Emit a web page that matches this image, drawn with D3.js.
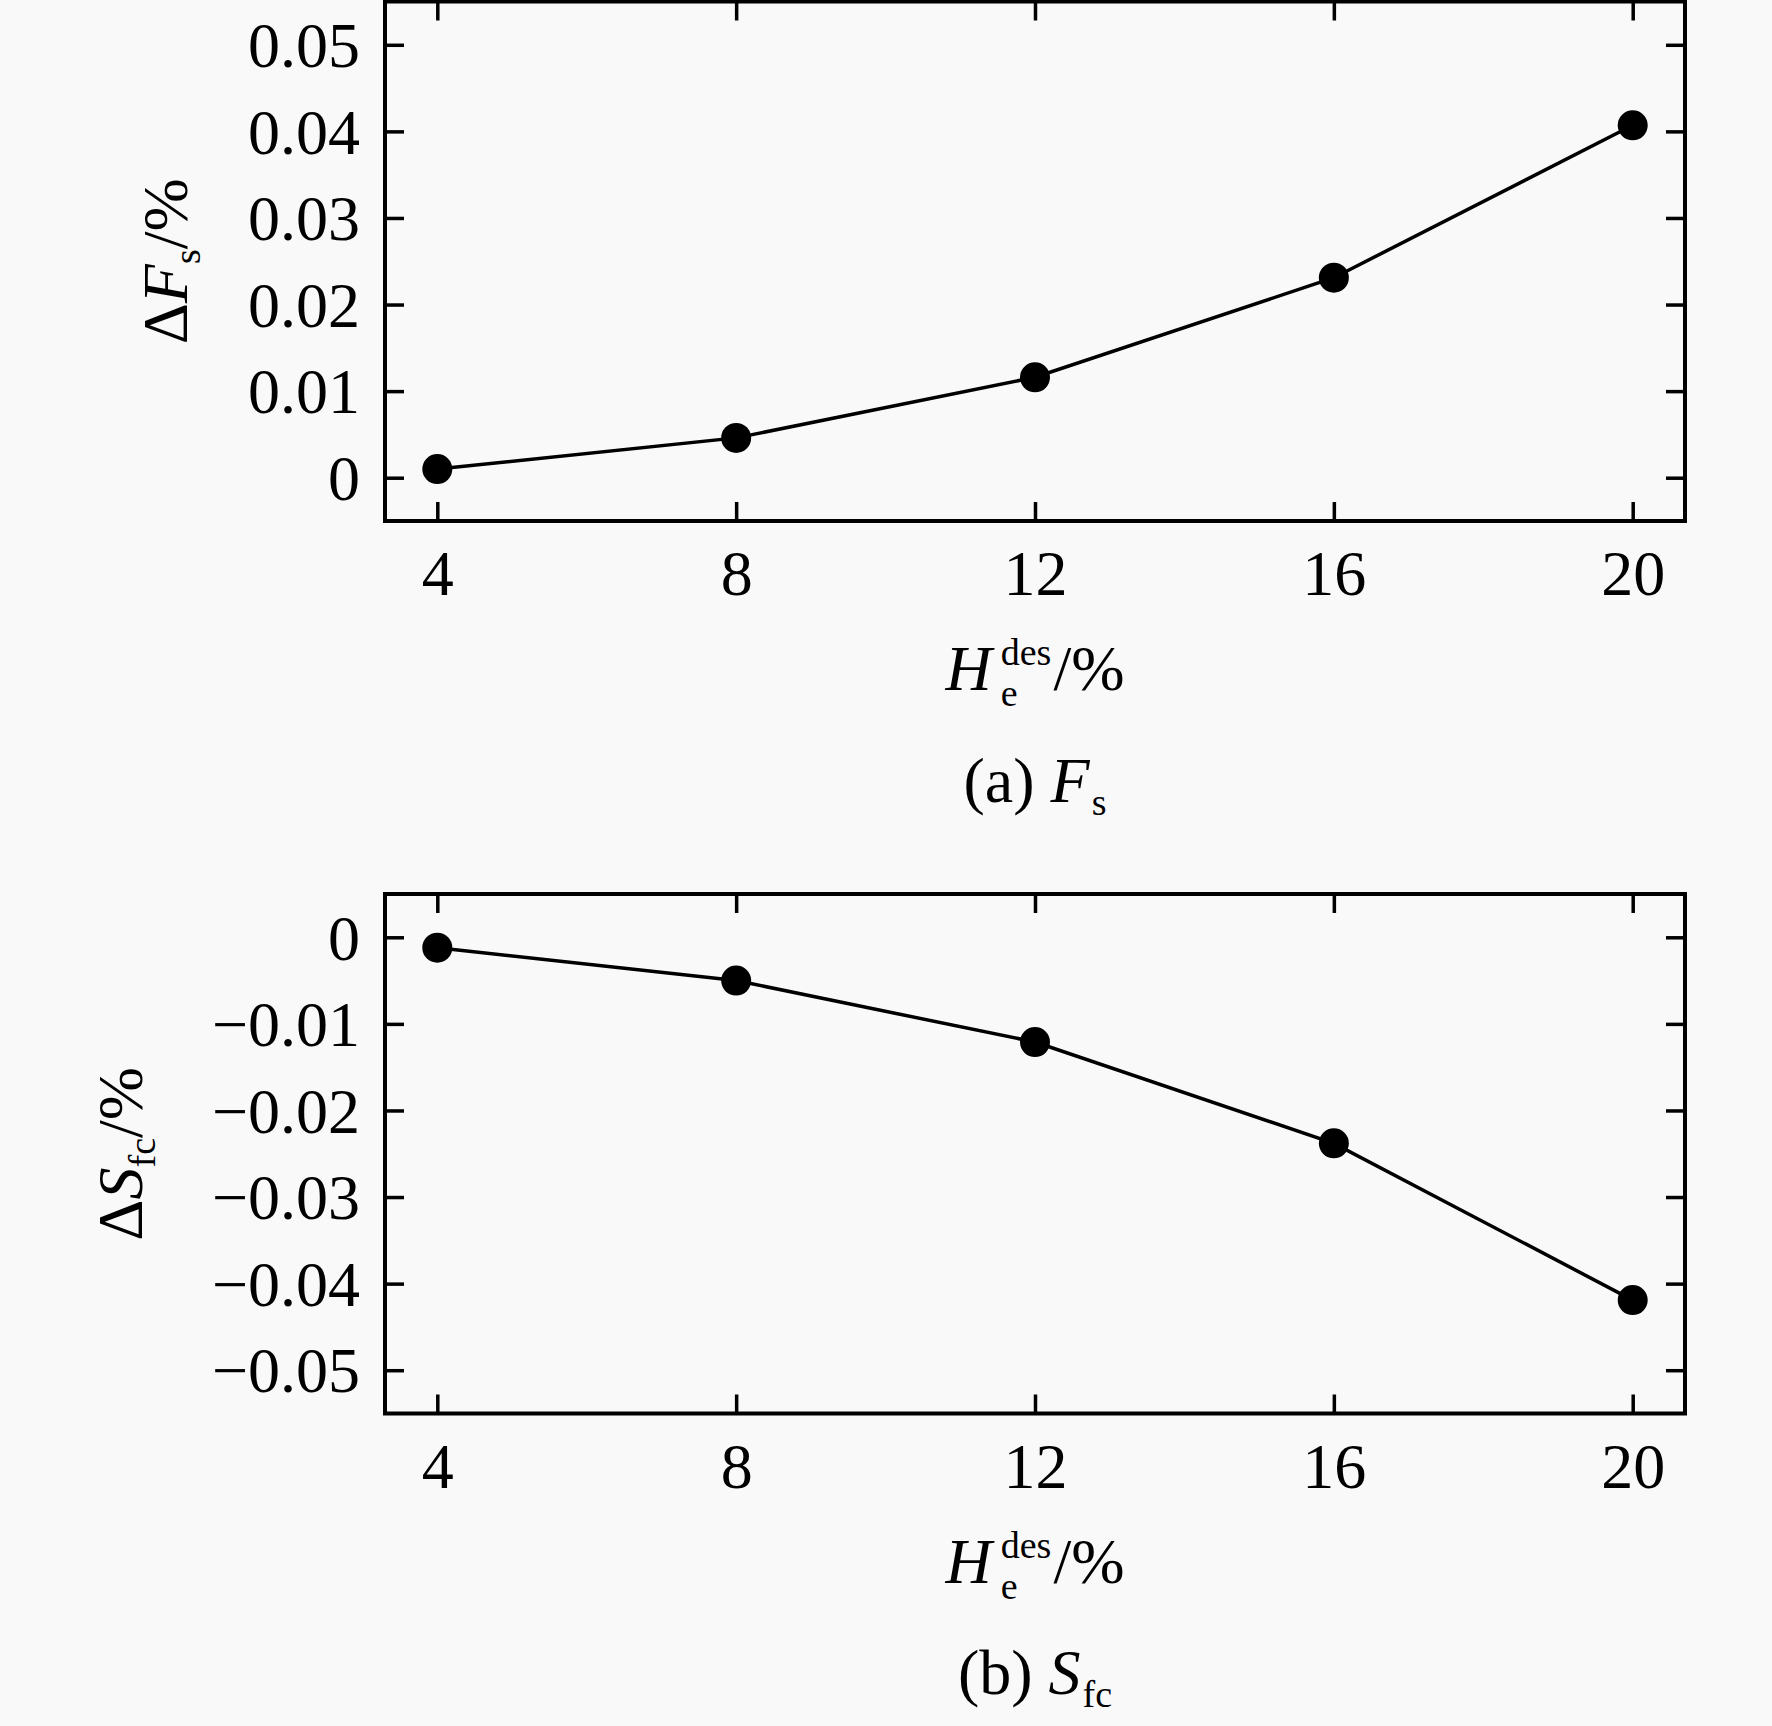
<!DOCTYPE html>
<html>
<head>
<meta charset="utf-8">
<script src="https://cdn.jsdelivr.net/npm/d3@7/dist/d3.min.js"></script>
<style>
  html, body { margin: 0; padding: 0; background: #f9f9f9; }
  svg { display: block; }
  text { font-family: "Liberation Serif", "Times New Roman", serif; fill: #000; }
</style>
</head>
<body>
<svg id="chart" width="1772" height="1726"></svg>
<script>
// ---- data ----
const xValues = [4, 8, 12, 16, 20];
const fsValues = [0.001, 0.0046, 0.0116, 0.0231, 0.0407];
const sfcValues = [-0.0012, -0.005, -0.0121, -0.0238, -0.0419];
const xTickValues = [4, 8, 12, 16, 20];
const fsTickValues = [0, 0.01, 0.02, 0.03, 0.04, 0.05];
const sfcTickValues = [0, -0.01, -0.02, -0.03, -0.04, -0.05];
const xDomain = [3.3, 20.7];
const fsDomain = [-0.005, 0.055];
const sfcDomain = [-0.055, 0.005];

const svg = d3.select("#chart");
svg.append("rect").attr("width", 1772).attr("height", 1726).attr("fill", "#f9f9f9");

const L = 385, R = 1685, H = 519.5;
const FS = 64, SMALL = 38;

const x = d3.scaleLinear().domain(xDomain).range([L, R]);

const fmt = d => d === 0 ? "0" : d3.format(".2f")(d);

function rich(g, pieces) {
  const t = g.append("text").attr("font-size", FS);
  pieces.forEach(p => {
    const s = t.append("tspan").text(p.t);
    if (p.italic) s.attr("font-style", "italic");
    if (p.size) s.attr("font-size", p.size);
    if (p.dy) s.attr("dy", p.dy);
    if (p.dx) s.attr("dx", p.dx);
    p.node = s;
  });
  return t;
}

function panel(cfg) {
  const top = cfg.top;
  const y = d3.scaleLinear().domain(cfg.yDomain).range([top + H, top]);
  const g = svg.append("g");

  const styleAxis = sel => {
    sel.select(".domain").remove();
    sel.selectAll(".tick line").attr("stroke", "#000").attr("stroke-width", 3.5);
    sel.selectAll(".tick text").attr("font-size", FS).attr("font-family", "Liberation Serif, Times New Roman, serif").attr("fill", "#000");
  };
  const bottomAx = g.append("g").attr("transform", `translate(0,${top + H})`)
    .call(d3.axisBottom(x).tickValues(xTickValues).tickSize(-19).tickPadding(29).tickFormat(d3.format("d")));
  styleAxis(bottomAx);
  bottomAx.selectAll(".tick text").attr("dy", "0.71em");
  const topAx = g.append("g").attr("transform", `translate(0,${top})`)
    .call(d3.axisTop(x).tickValues(xTickValues).tickSize(-19).tickFormat(""));
  styleAxis(topAx);
  const leftAx = g.append("g").attr("transform", `translate(${L},0)`)
    .call(d3.axisLeft(y).tickValues(cfg.ticks).tickSize(-19).tickPadding(25).tickFormat(fmt));
  styleAxis(leftAx);
  leftAx.selectAll(".tick text").attr("dy", "0.34em");
  const rightAx = g.append("g").attr("transform", `translate(${R},0)`)
    .call(d3.axisRight(y).tickValues(cfg.ticks).tickSize(-19).tickFormat(""));
  styleAxis(rightAx);

  g.append("rect").attr("x", L).attr("y", top).attr("width", R - L).attr("height", H)
    .attr("fill", "none").attr("stroke", "#000").attr("stroke-width", 4);

  const data = xValues.map((v, i) => [v, cfg.values[i]]);
  g.append("path").datum(data)
    .attr("fill", "none").attr("stroke", "#000").attr("stroke-width", 3.5)
    .attr("d", d3.line().x(d => x(d[0])).y(d => y(d[1])));
  g.selectAll("circle.pt").data(data).enter().append("circle")
    .attr("class", "pt").attr("cx", d => x(d[0])).attr("cy", d => y(d[1])).attr("r", 15).attr("fill", "#000");

  const yt = g.append("g").attr("transform", `translate(${cfg.yTitleX},${top + H / 2}) rotate(-90)`);
  rich(yt, cfg.yTitle).attr("text-anchor", "middle");

  // x title: H_e^des/%
  const xt = g.append("g").attr("transform", `translate(${(L + R) / 2},${top + 688.5})`);
  const pcs = [
    { t: "H", italic: true },
    { t: "e", size: SMALL, dy: 16, dx: 9 },
    { t: "des", size: SMALL, dy: -41 },
    { t: "/%", dy: 25, dx: 2 }
  ];
  rich(xt, pcs).attr("text-anchor", "middle");
  const eW = pcs[1].node.node().getComputedTextLength();
  pcs[2].node.attr("dx", -eW);

  const cap = g.append("g").attr("transform", `translate(${(L + R) / 2},${top + 800})`);
  rich(cap, cfg.caption).attr("text-anchor", "middle");
}

panel({
  top: 1.5, yDomain: fsDomain, ticks: fsTickValues, values: fsValues, yTitleX: 187,
  yTitle: [{ t: "Δ" }, { t: "F", italic: true }, { t: "s", size: SMALL, dy: 13 }, { t: "/%", dy: -13 }],
  caption: [{ t: "(a) " }, { t: "F", italic: true }, { t: "s", size: SMALL, dy: 13, dx: 2 }]
});
panel({
  top: 894, yDomain: sfcDomain, ticks: sfcTickValues, values: sfcValues, yTitleX: 142,
  yTitle: [{ t: "Δ" }, { t: "S", italic: true }, { t: "fc", size: SMALL, dy: 13 }, { t: "/%", dy: -13 }],
  caption: [{ t: "(b) " }, { t: "S", italic: true }, { t: "fc", size: SMALL, dy: 13, dx: 2 }]
});
</script>
</body>
</html>
